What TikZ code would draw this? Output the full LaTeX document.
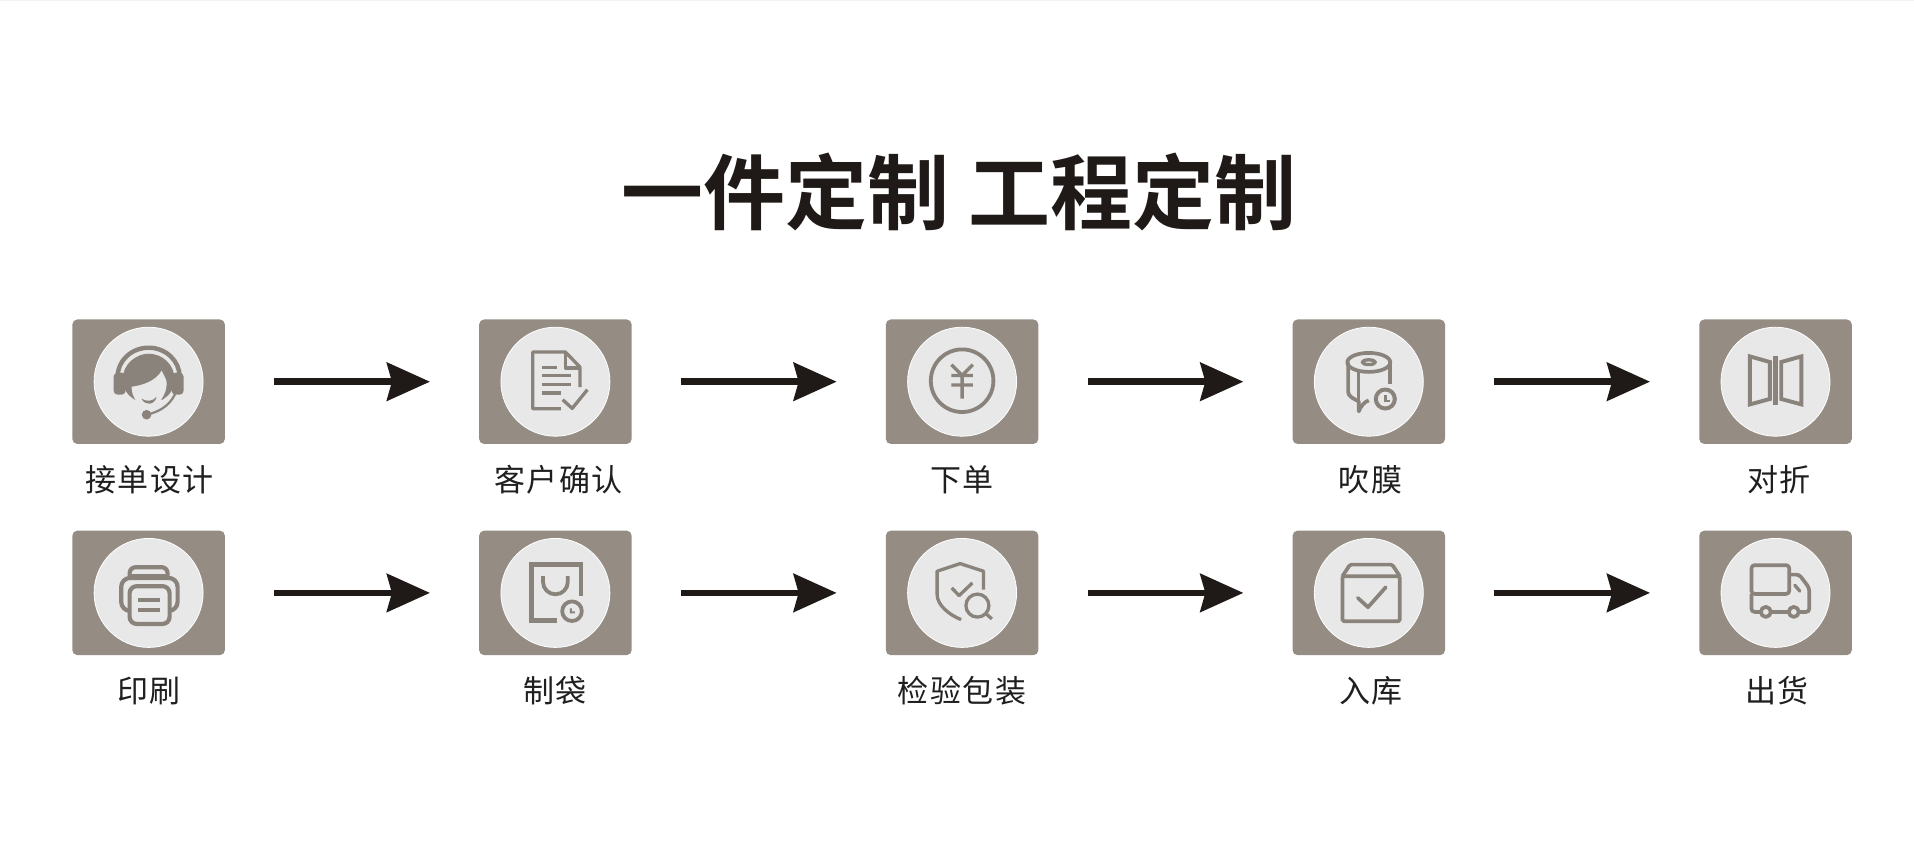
\documentclass[tikz,border=0pt]{standalone}
\usepackage{fontspec}
\usetikzlibrary{arrows.meta}
\newfontfamily\titlefont{Noto Sans CJK SC Bold}
\newfontfamily\labelfont[LetterSpace=5]{Noto Sans CJK SC}
\definecolor{boxgray}{HTML}{958D84}
\definecolor{discgray}{HTML}{E8E8E8}
\definecolor{icongray}{HTML}{8A837B}
\definecolor{inkblack}{HTML}{1F1A17}
\tikzset{
  stepbox/.style={draw=none,fill=boxgray,minimum width=152.5bp,minimum height=124.5bp,rounded corners=5bp,inner sep=0pt},
  disc/.style={draw=white,line width=0.8bp,fill=discgray,circle,minimum size=109bp,inner sep=0pt},
  steplabel/.style={font=\labelfont\fontsize{31bp}{33bp}\selectfont,text=black!88,inner sep=0pt,anchor=center},
  flow/.style={draw=inkblack,line width=6.5bp,shorten <=49bp,shorten >=49bp,-{Stealth[length=43bp,width=38bp,inset=5bp,fill=inkblack]}},
  icon/.style={draw=icongray,line width=3.7bp,line join=round,fill=none},
  iconthin/.style={icon,line width=3.3bp},
}
\newcommand{\mkstep}[5]{% name, x, y, label x, text
  \node[stepbox] (#1) at (#2,#3) {};
  \node[disc] (#1disc) at (#1) {};
  \node[steplabel] (#1text) at (#4,#3+97.7) {#5};
}
\begin{document}
\begin{tikzpicture}[x=1bp,y=-1bp]
\useasboundingbox (0,0) rectangle (1914,855);
\fill[white] (0,0) rectangle (1914,855);
\fill[black!5] (0,0) rectangle (1914,1.3);
\node[font=\titlefont\fontsize{82bp}{85bp}\selectfont,text=inkblack,inner sep=0pt] (title) at (959,192) {一件定制 工程定制};

\mkstep{a}{148.6}{381.7}{149.6}{接单设计}
\mkstep{b}{555.4}{381.7}{558.5}{客户确认}
\mkstep{c}{962.1}{381.7}{962}{下单}
\mkstep{d}{1368.8}{381.7}{1370.5}{吹膜}
\mkstep{e}{1775.5}{381.7}{1779}{对折}
\mkstep{f}{148.6}{592.9}{149}{印刷}
\mkstep{g}{555.4}{592.9}{554.8}{制袋}
\mkstep{h}{962.1}{592.9}{962}{检验包装}
\mkstep{i}{1368.8}{592.9}{1371}{入库}
\mkstep{j}{1775.5}{592.9}{1777}{出货}

\foreach \p/\q in {a/b,b/c,c/d,d/e,f/g,g/h,h/i,i/j}{\draw[flow] (\p) -- (\q);}

% headset
\begin{scope}[shift={(a.center)}]
  \draw[icon,line width=4.4bp] (-31,-5) arc[start angle=180,end angle=360,x radius=31,y radius=29];
  \fill[icongray,rounded corners=4bp] (-35,-9) rectangle (-23,13);
  \fill[icongray,rounded corners=4bp] (23,-9) rectangle (35,13);
  \fill[icongray] (-26,-2) .. controls (-26,-18) and (-12,-28) .. (0,-28) .. controls (13,-28) and (26,-18) .. (26,-2) .. controls (26,8) and (20,14) .. (14,18) -- (-14,18) .. controls (-20,14) and (-26,8) .. (-26,-2) -- cycle;
  \fill[discgray] (-17,5) .. controls (-8,4) and (7,0) .. (13,-11) .. controls (15,-7) and (17,-4) .. (18,0) .. controls (19,13) and (9,25) .. (0,26) .. controls (-10,25) and (-17,16) .. (-17,5) -- cycle;
  \fill[icongray] (-7,17) .. controls (-2,20) and (4,20) .. (8,15) .. controls (6,24) and (-4,24) .. (-7,17) -- cycle;
  \draw[icongray,line width=2.2bp] (28,8) .. controls (24,22) and (12,30) .. (-2,33);
  \fill[icongray] (-2,33) circle[radius=4.8];
\end{scope}

% document
\begin{scope}[shift={(b.center)}]
  \draw[iconthin] (5.4,27) -- (-22.6,27) -- (-22.6,-29.7) -- (10,-29.7) -- (24.5,-14.7) -- (24.5,5.3);
  \draw[iconthin] (10,-29.7) -- (10,-13.7) -- (24.5,-13.7);
  \draw[iconthin] (-13.8,-14.3) -- (1.5,-14.3) (-13.8,-6) -- (15.7,-6) (-13.8,2.7) -- (15.7,2.7) (-13.8,11.3) -- (5.4,11.3);
  \draw[iconthin] (7.3,18) -- (16.8,26.7) -- (32,8);
\end{scope}

% yen
\begin{scope}[shift={(c.center)}]
  \draw[icon,line width=3.8bp] (0,-1) circle[radius=31.3];
  \draw[iconthin] (-10.7,-17) -- (0,-6.3) -- (10.7,-17) (-10.7,-6.3) -- (10.7,-6.3) (-10.7,3.3) -- (10.7,3.3) (0,-6.3) -- (0,17);
\end{scope}

% roll
\begin{scope}[shift={(d.center)}]
  \draw[icon] (0,-19.3) ellipse[x radius=21.5,y radius=9.5];
  \draw[iconthin] (0,-19.5) ellipse[x radius=6.5,y radius=2.4];
  \draw[icon] (21.4,-19.3) -- (21.4,2);
  \draw[icon] (-20.7,-19.3) -- (-20.7,10) .. controls (-20.7,15) and (-15,17) .. (-10,19.7) -- (-10,29.7) .. controls (-8,24) and (-4,20) .. (0,18.7);
  \draw[icon] (-10.3,-10) -- (-10.3,19);
  \draw[icon,line width=4bp] (16.5,17.3) circle[radius=9.5];
  \draw[line width=2.4bp,icongray] (16.5,13) -- (16.5,19) -- (21,19);
\end{scope}

% fold
\begin{scope}[shift={(e.center)}]
  \draw[icon,line width=3.9bp,line join=miter] (-25.6,-25.3) -- (-5.7,-19.7) -- (-5.7,17.3) -- (-25.6,22.7) -- cycle;
  \draw[icon,line width=3.9bp,line join=miter] (25.9,-25.3) -- (5.7,-19.7) -- (5.7,17.3) -- (25.9,22.7) -- cycle;
  \draw[icon,line width=4.4bp] (0,-26) -- (0,23);
\end{scope}

% printer
\begin{scope}[shift={(f.center)}]
  \draw[icon,line width=4.2bp,rounded corners=6bp] (-19,-12) -- (-19,-25.7) -- (19,-25.7) -- (19,-12);
  \draw[icon,line width=3.4bp] (-19,-17) -- (19,-17);
  \draw[icon,line width=4.2bp,rounded corners=9bp,fill=discgray] (-27.4,-15) rectangle (29,18);
  \draw[icon,line width=4.2bp,rounded corners=7bp,fill=discgray] (-19,-6.7) rectangle (21,31);
  \draw[icon,line width=4.2bp] (-10.8,7.3) -- (11.2,7.3) (-10.8,16.7) -- (11.2,16.7);
\end{scope}

% bag
\begin{scope}[shift={(g.center)}]
  \draw[icon,line width=4.6bp,line join=miter] (2,27.7) -- (-24,27.7) -- (-24,-28.3) -- (25.7,-28.3) -- (25.7,3.3);
  \draw[icon,line width=3.8bp] (-12.4,-16.7) -- (-12.4,-11) arc[start angle=180,end angle=0,radius=12.4] -- (12.4,-16.7);
  \draw[icon,line width=3.8bp] (16.6,18.3) circle[radius=9.8];
  \fill[icongray] (14.5,15.5) -- (16.5,15.5) -- (16.5,18.5) -- (19.5,18.5) -- (19.5,20.5) -- (14.5,20.5) -- cycle;
\end{scope}

% shield
\begin{scope}[shift={(h.center)}]
  \draw[iconthin] (21.4,-3.3) -- (21.4,-21.7) -- (-2,-29.3) -- (-25,-21.7) -- (-25,1.7) .. controls (-25,12) and (-13,22) .. (-1,26.7);
  \draw[iconthin] (-10.4,-5) -- (-3,2.7) -- (10.3,-10);
  \draw[iconthin] (15.3,12.7) circle[radius=11.5];
  \draw[iconthin] (23.5,20.5) -- (29.8,26);
\end{scope}

% parcel
\begin{scope}[shift={(i.center)}]
  \draw[icon,rounded corners=1.5bp] (-26.4,-16.7) rectangle (31,28.3);
  \draw[icon,rounded corners=1.5bp] (-26.4,-16.7) -- (-18.8,-28.3) -- (23.4,-28.3) -- (31,-16.7);
  \draw[icon,line cap=round] (-11,5) -- (-0.8,14.3) -- (17,-5.7);
\end{scope}

% truck
\begin{scope}[shift={(j.center)}]
  \draw[icon,rounded corners=3bp] (-24,-27.7) rectangle (13.7,1);
  \draw[icon,rounded corners=3bp] (-24,1) -- (-24,19) -- (-14.7,19);
  \draw[icon] (-4.7,19) -- (13.3,19);
  \draw[icon,rounded corners=3bp] (23.3,19) -- (33.7,19) -- (33.7,-5) -- (23.7,-18.3) -- (13.7,-18.3);
  \draw[icon] (-9.7,19) circle[radius=5];
  \draw[icon] (18.3,19) circle[radius=5];
  \draw[iconthin,line cap=round] (19.3,-7.7) -- (24.3,-1.7);
\end{scope}
\end{tikzpicture}
\end{document}
